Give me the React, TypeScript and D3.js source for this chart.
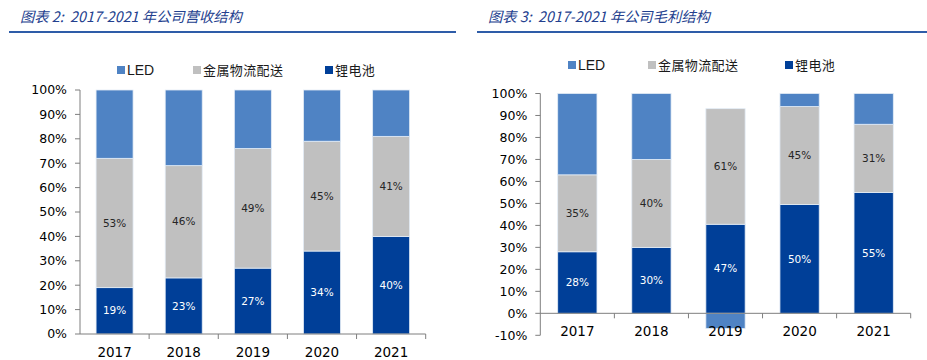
import React from "react";
import * as d3 from "d3";

const years = ["2017", "2018", "2019", "2020", "2021"];
const legendNames = ["LED", "金属物流配送", "锂电池"];

// 营收结构 (%)
const revenueLithium = [19, 23, 27, 34, 40];
const revenueMetal = [53, 46, 49, 45, 41];
const revenueLED = [28, 31, 24, 21, 19];
const revenueTicks = [0, 10, 20, 30, 40, 50, 60, 70, 80, 90, 100];

// 毛利结构 (%)
const profitLithium = [28, 30, 47, 50, 55];
const profitMetal = [35, 40, 61, 45, 31];
const profitLED = [37, 30, -8, 6, 14];
const profitTicks = [-10, 0, 10, 20, 30, 40, 50, 60, 70, 80, 90, 100];

const COLOR_LED = "#4F83C4";
const COLOR_METAL = "#C0C0C0";
const COLOR_LI = "#003F98";
const TITLE_COLOR = "#23408E";
const AXIS_COLOR = "#7F7F7F";
const FONT = "'DejaVu Sans', Verdana, sans-serif";
const CJK = "'Noto Sans CJK SC', sans-serif";

type ChartProps = {
  title: string;
  titleX: number;
  lineX1: number;
  lineX2: number;
  legendX: number[];
  legendY: number;
  axisX: number;
  axisEnd: number;
  yTop: number;
  yBottom: number;
  ticks: number[];
  lithium: number[];
  metal: number[];
  led: number[];
  pad: number;
};

function Chart(p: ChartProps) {
  const y = d3
    .scaleLinear()
    .domain([d3.min(p.ticks)!, d3.max(p.ticks)!])
    .range([p.yBottom, p.yTop]);
  const x = d3
    .scaleBand<string>()
    .domain(years)
    .range([p.axisX, p.axisEnd])
    .paddingInner(p.pad)
    .paddingOuter(p.pad / 2);
  const bw = x.bandwidth();
  const step = x.step();
  const y0 = y(0);

  const bars: React.ReactNode[] = [];
  const labels: React.ReactNode[] = [];
  years.forEach((yr, i) => {
    const vals = [
      { v: p.lithium[i], c: COLOR_LI, label: true, tc: "#FFFFFF" },
      { v: p.metal[i], c: COLOR_METAL, label: true, tc: "#262626" },
      { v: p.led[i], c: COLOR_LED, label: false, tc: "#262626" },
    ];
    const total = d3.sum(vals, (d) => Math.abs(d.v));
    let pos = 0;
    let neg = 0;
    vals.forEach((d, j) => {
      const share = (Math.abs(d.v) / total) * 100;
      let a: number, b: number;
      if (d.v >= 0) {
        a = pos;
        b = pos + share;
        pos = b;
      } else {
        a = neg - share;
        b = neg;
        neg = a;
      }
      const top = y(b);
      const bot = y(a);
      bars.push(
        <rect
          key={`b-${yr}-${j}`}
          x={x(yr)!}
          y={top}
          width={bw}
          height={bot - top}
          fill={d.c}
          stroke="#E3ECF6"
          strokeWidth={0.8}
        />
      );
      if (d.label) {
        labels.push(
          <text
            key={`l-${yr}-${j}`}
            x={x(yr)! + bw / 2}
            y={(top + bot) / 2}
            dy="0.35em"
            textAnchor="middle"
            fontFamily={FONT}
            fontSize={10.5}
            fill={d.tc}
          >
            {`${d.v}%`}
          </text>
        );
      }
    });
  });

  const legendColors = [COLOR_LED, COLOR_METAL, COLOR_LI];

  return (
    <g>
      <text
        x={p.titleX}
        y={17}
        dy="0.35em"
        fontFamily={CJK}
        fontStyle="italic"
        fontWeight={400}
        fontSize={14.3}
        fill={TITLE_COLOR}
        style={{ whiteSpace: "pre" }}
      >
        {p.title}
      </text>
      <line x1={p.lineX1} x2={p.lineX2} y1={32} y2={32} stroke="#2E5CA8" strokeWidth={2} />

      {legendNames.map((n, i) => (
        <g key={n}>
          <rect x={p.legendX[i]} y={p.legendY - 4} width={8} height={8} fill={legendColors[i]} />
          <text
            x={p.legendX[i] + 10}
            y={p.legendY}
            dy="0.35em"
            fontFamily={i === 0 ? "'Liberation Sans', Arial, sans-serif" : CJK}
            fontSize={i === 0 ? 14 : 13}
            letterSpacing={i === 0 ? 0 : 0.4}
            fill="#1A1A1A"
          >
            {n}
          </text>
        </g>
      ))}

      {/* y axis */}
      <line x1={p.axisX} x2={p.axisX} y1={y(d3.min(p.ticks)!)} y2={y(100)} stroke={AXIS_COLOR} />
      {p.ticks.map((t) => (
        <g key={`t-${t}`}>
          <line x1={p.axisX - 5} x2={p.axisX} y1={y(t)} y2={y(t)} stroke={AXIS_COLOR} />
          <text
            x={p.axisX - 13}
            y={y(t)}
            dy="0.35em"
            textAnchor="end"
            fontFamily={FONT}
            fontSize={12.5}
            fill="#000"
          >
            {`${t}%`}
          </text>
        </g>
      ))}

      {bars}

      {/* x axis at 0 */}
      <line x1={p.axisX} x2={p.axisEnd} y1={y0} y2={y0} stroke={AXIS_COLOR} />
      {years.map((yr, i) => (
        <line
          key={`xt-${yr}`}
          x1={p.axisX + step * (i + 1)}
          x2={p.axisX + step * (i + 1)}
          y1={y0}
          y2={y0 + 5}
          stroke={AXIS_COLOR}
        />
      ))}
      {years.map((yr) => (
        <text
          key={`xl-${yr}`}
          x={x(yr)! + bw / 2}
          y={y0 + 18}
          dy="0.35em"
          textAnchor="middle"
          fontFamily={FONT}
          fontSize={13.5}
          fill="#000"
        >
          {yr}
        </text>
      ))}

      {labels}
    </g>
  );
}

export default function App() {
  return (
    <svg
      width={927}
      height={360}
      style={{ position: "absolute", left: 0, top: 0, background: "#fff" }}
    >
      <Chart
        title={"图表 2:\u00A0\u00A02017-2021 年公司营收结构"}
        titleX={20}
        lineX1={9}
        lineX2={456}
        legendX={[117, 193, 325]}
        legendY={70}
        axisX={80}
        axisEnd={425.7}
        yTop={90}
        yBottom={334}
        ticks={revenueTicks}
        lithium={revenueLithium}
        metal={revenueMetal}
        led={revenueLED}
        pad={0.465}
      />
      <Chart
        title={"图表 3:\u00A0\u00A02017-2021 年公司毛利结构"}
        titleX={488}
        lineX1={477}
        lineX2={927}
        legendX={[568, 648, 785]}
        legendY={65}
        axisX={540.3}
        axisEnd={910.7}
        yTop={93.5}
        yBottom={335.3}
        ticks={profitTicks}
        lithium={profitLithium}
        metal={profitMetal}
        led={profitLED}
        pad={0.47}
      />
    </svg>
  );
}
